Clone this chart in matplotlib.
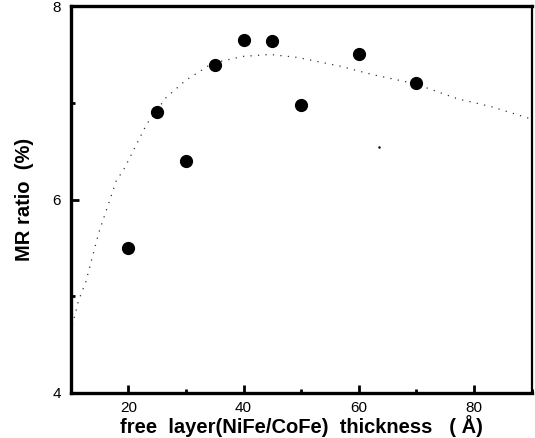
import matplotlib
matplotlib.use("Agg")
import matplotlib.pyplot as plt
from matplotlib.ticker import MultipleLocator

# ── Data ───────────────────────────────────────────────────────────────────────
thickness = [20, 25, 30, 35, 40, 45, 50, 60, 70]
mr_ratio  = [5.50, 6.90, 6.40, 7.39, 7.65, 7.64, 6.98, 7.51, 7.21]

# dotted guide curve (sampled along the drawn trend)
curve_x = [10.3, 11.4, 12.6, 14.9, 17.9, 19.4, 23.2, 26.5, 29.9, 34.6,
           39.9, 44.6, 49.3, 56.7, 62.5, 69.6, 77.2, 83.0, 89.5]
curve_y = [4.70, 4.96, 5.14, 5.66, 6.19, 6.33, 6.78, 7.05, 7.23, 7.41,
           7.48, 7.50, 7.47, 7.38, 7.29, 7.20, 7.04, 6.96, 6.84]

# stray speck in the scan
speck_x = [63.5]
speck_y = [6.54]

plt.rcParams["font.family"] = ["Liberation Sans", "DejaVu Sans"]

fig = plt.figure(figsize=(5.35, 4.38), dpi=100)
ax = fig.add_axes([0.132, 0.103, 0.862, 0.883])

ax.plot(curve_x, curve_y, color="#333333", linewidth=0.9,
        linestyle=(0, (1, 5)))
ax.plot(thickness, mr_ratio, "o", color="black", markersize=8.5)
ax.plot(speck_x, speck_y, ".", color="black", markersize=1.5)

ax.set_xlim(10, 90)
ax.set_ylim(4, 8)
ax.xaxis.set_major_locator(MultipleLocator(20))
ax.xaxis.set_minor_locator(MultipleLocator(10))
ax.yaxis.set_major_locator(MultipleLocator(2))
ax.yaxis.set_minor_locator(MultipleLocator(1))

ax.tick_params(which="both", direction="in", width=2, labelsize=11)
ax.tick_params(which="major", length=6, pad=7)
ax.tick_params(axis="x", which="major", pad=6)
ax.tick_params(which="minor", length=3)
ax.tick_params(axis="x", which="both", top=False)
ax.tick_params(axis="y", which="both", right=False)

for side in ["left", "bottom", "top"]:
    ax.spines[side].set_linewidth(2.4)
ax.spines["right"].set_linewidth(1.6)

ax.set_xlabel("free  layer(NiFe/CoFe)  thickness   ( Å)",
              fontsize=14.5, fontweight="bold", labelpad=0)
ax.set_ylabel("MR ratio  (%)", fontsize=14.5, fontweight="bold", labelpad=13)

fig.savefig("out.png", dpi=100)
